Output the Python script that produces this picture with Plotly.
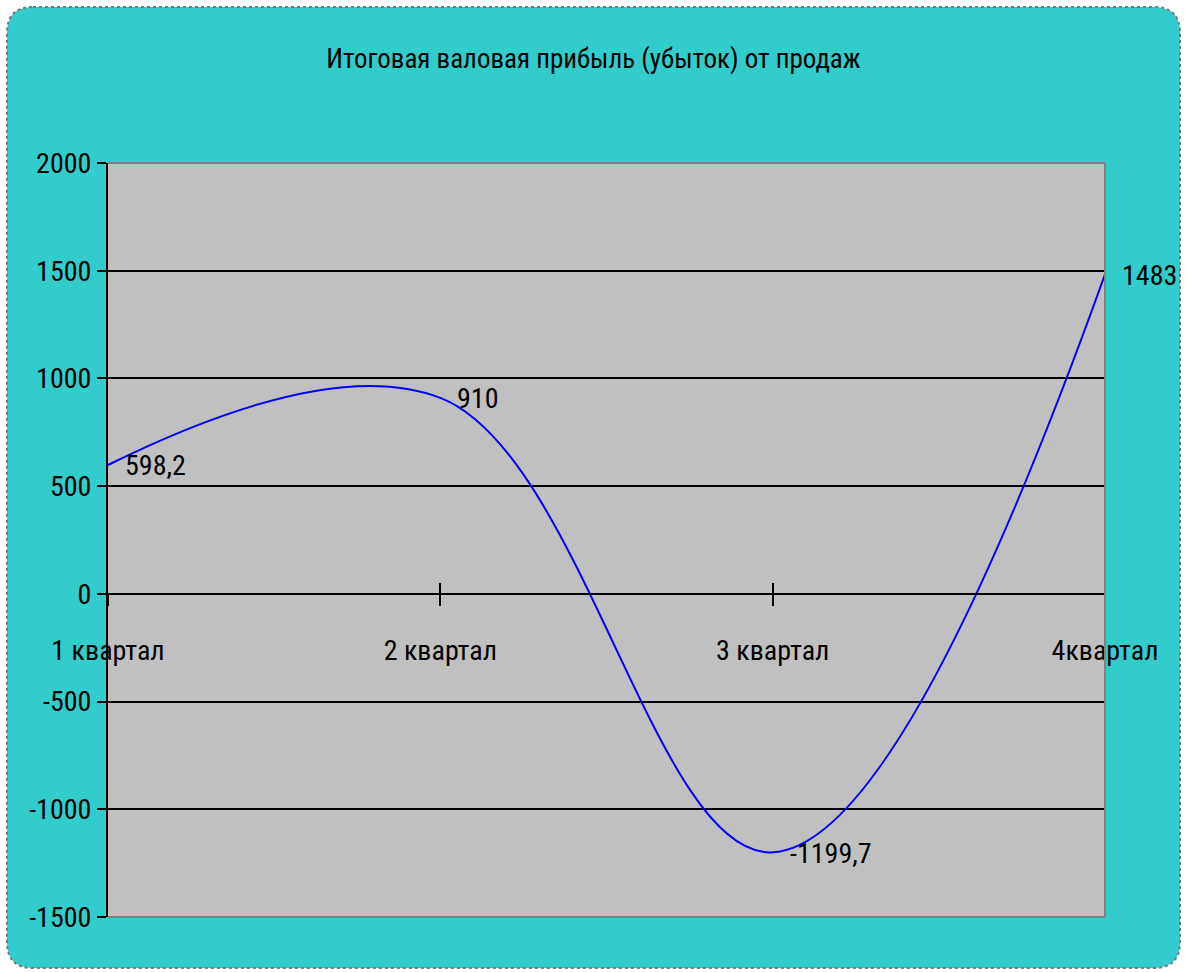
import plotly.graph_objects as go

# Quarterly totals
quarters = ["1 квартал", "2 квартал", "3 квартал", "4квартал"]
profit = [598.2, 910, -1199.7, 1483]
value_labels = ["598,2", "910", "-1199,7", "1483"]

y_ticks = [-1500, -1000, -500, 0, 500, 1000, 1500, 2000]

W, H = 1187, 972
M_L, M_R, M_T, M_B = 108, 82, 163, 55
FONT = "Roboto Condensed, Liberation Sans Narrow, Arial Narrow, sans-serif"
FS = 28
TEAL = "#33CCCC"
PLOT_GRAY = "#C0C0C0"

y_min, y_max = -1500, 2000
zero_pos = (0 - y_min) / (y_max - y_min)

pw = W - M_L - M_R
ph = H - M_T - M_B


def px_x(px):
    return (px - M_L) / pw


def px_y(py):
    return (H - M_B - py) / ph


def rounded_rect(x0, y0, x1, y1, r):
    # rounded rectangle path in paper coordinates, built from pixel bounds
    pts = [
        f"M {px_x(x0 + r)},{px_y(y0)}",
        f"L {px_x(x1 - r)},{px_y(y0)}",
        f"Q {px_x(x1)},{px_y(y0)} {px_x(x1)},{px_y(y0 + r)}",
        f"L {px_x(x1)},{px_y(y1 - r)}",
        f"Q {px_x(x1)},{px_y(y1)} {px_x(x1 - r)},{px_y(y1)}",
        f"L {px_x(x0 + r)},{px_y(y1)}",
        f"Q {px_x(x0)},{px_y(y1)} {px_x(x0)},{px_y(y1 - r)}",
        f"L {px_x(x0)},{px_y(y0 + r)}",
        f"Q {px_x(x0)},{px_y(y0)} {px_x(x0 + r)},{px_y(y0)}",
        "Z",
    ]
    return " ".join(pts)


fig = go.Figure()

fig.add_trace(go.Scatter(
    x=quarters, y=profit, mode="lines",
    line=dict(color="#0000FF", width=2, shape="spline", smoothing=1.1),
    hoverinfo="skip", showlegend=False,
))
# invisible trace on the overlaying axis so its crossing ticks render
fig.add_trace(go.Scatter(
    x=quarters, y=profit, mode="lines", xaxis="x2",
    line=dict(width=0), opacity=0, hoverinfo="skip", showlegend=False,
))

shapes = [
    # card background
    dict(type="path", xref="paper", yref="paper", layer="below",
         path=rounded_rect(7, 7, 1180, 968, 26),
         fillcolor=TEAL, line=dict(color="#777777", width=2, dash="dot")),
    # plot area
    dict(type="rect", xref="x domain", yref="y domain", layer="below",
         x0=0, x1=1, y0=0, y1=1, fillcolor=PLOT_GRAY, line=dict(width=0)),
    # gray frame on top, right and bottom edges
    dict(type="line", xref="x domain", yref="y domain", x0=0, x1=1, y0=1, y1=1,
         line=dict(color="#808080", width=2)),
    dict(type="line", xref="x domain", yref="y domain", x0=1, x1=1, y0=0, y1=1,
         line=dict(color="#808080", width=2)),
    dict(type="line", xref="x domain", yref="y domain", x0=0, x1=1, y0=0, y1=0,
         line=dict(color="#808080", width=2)),
]

annotations = [
    dict(x=q, y=v, xref="x", yref="y", text=t, showarrow=False,
         xanchor="left", yanchor="middle", xshift=15, yshift=-1,
         font=dict(family=FONT, size=FS, color="black"))
    for q, v, t in zip(quarters, profit, value_labels)
]

fig.update_layout(
    width=W, height=H,
    margin=dict(l=M_L, r=M_R, t=M_T, b=M_B),
    paper_bgcolor="white",
    plot_bgcolor="rgba(0,0,0,0)",
    title=dict(text="Итоговая валовая прибыль (убыток) от продаж",
               x=0.5, xref="container", xanchor="center",
               y=1 - 59 / H, yref="container", yanchor="middle",
               font=dict(family=FONT, size=27, color="black")),
    xaxis=dict(
        type="category", range=[0, 3], anchor="free", position=zero_pos,
        showgrid=False, zeroline=False,
        showline=True, linecolor="black", linewidth=2,
        ticks="outside", ticklen=11, tickwidth=2, tickcolor="black",
        ticklabelstandoff=21,
        tickfont=dict(family=FONT, size=FS, color="black"),
    ),
    xaxis2=dict(
        type="category", range=[0, 3], overlaying="x", anchor="free",
        position=zero_pos, showgrid=False, zeroline=False, showline=False,
        ticks="inside", ticklen=11, tickwidth=2, tickcolor="black",
        showticklabels=False,
    ),
    yaxis=dict(
        range=[y_min, y_max],
        tickvals=y_ticks, ticktext=[str(v) for v in y_ticks],
        showgrid=True, gridcolor="black", gridwidth=2,
        zeroline=False,
        showline=True, linecolor="black", linewidth=2,
        ticks="outside", ticklen=9, tickwidth=2, tickcolor="black",
        tickfont=dict(family=FONT, size=FS, color="black"),
    ),
    shapes=shapes,
    annotations=annotations,
)

fig.write_html("out.html")
